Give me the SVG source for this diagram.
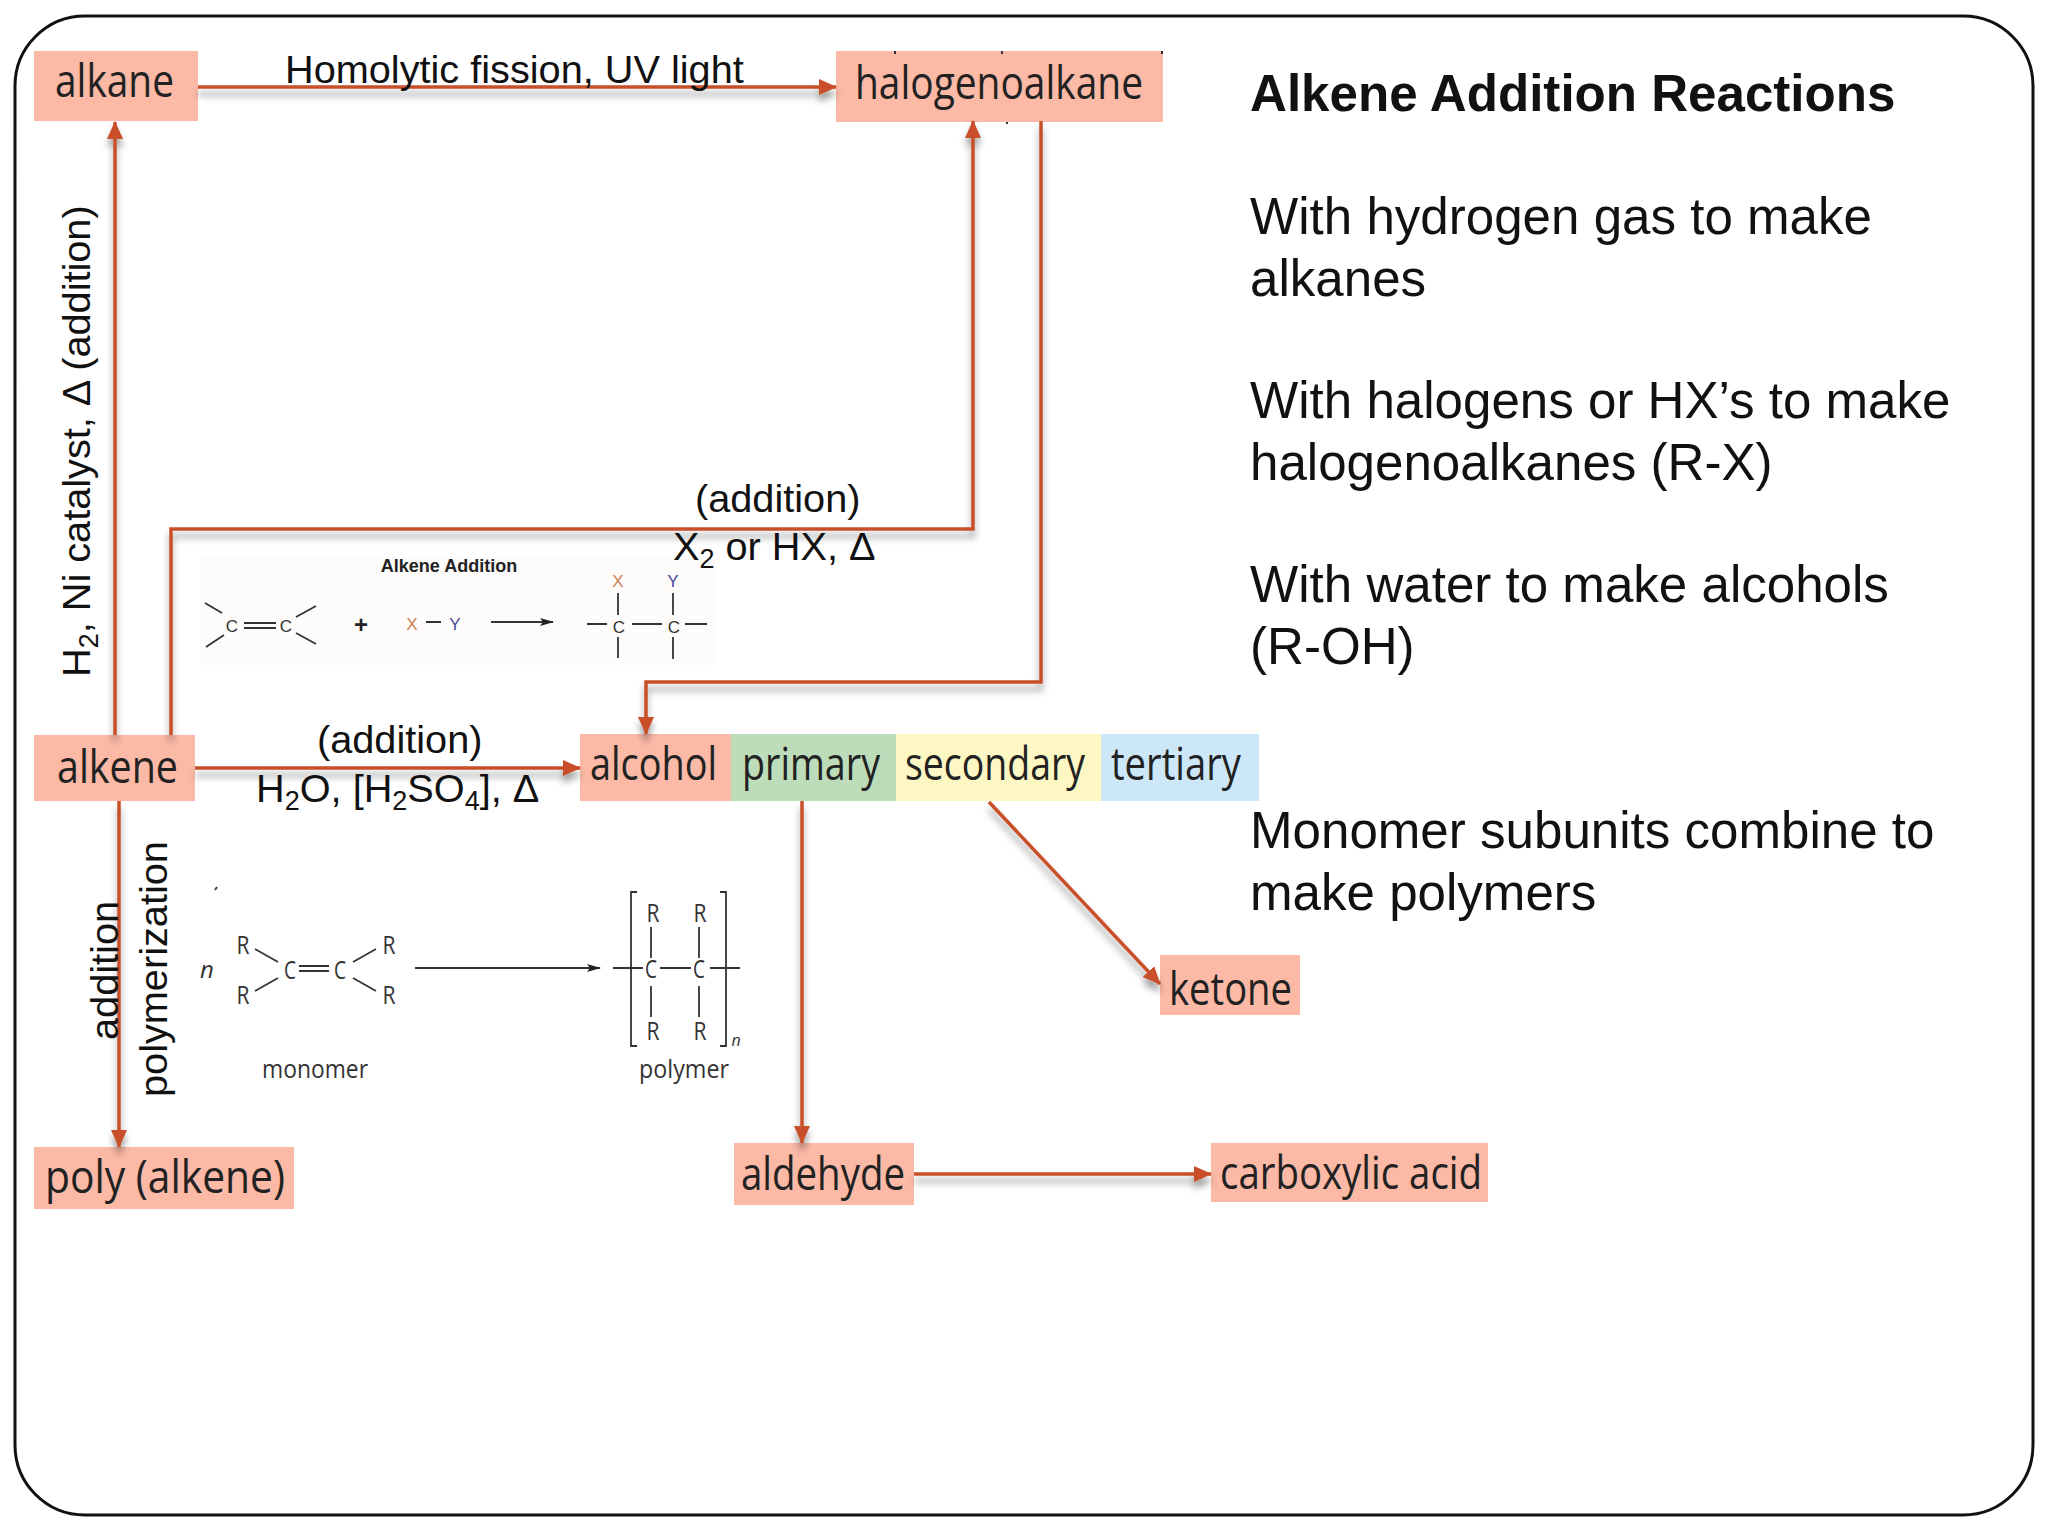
<svg xmlns="http://www.w3.org/2000/svg" width="2048" height="1536" viewBox="0 0 2048 1536">
<style>
.n{font-family:"Open Sans","Noto Sans",sans-serif;font-size:45px;fill:#222}
.l{font-family:"Liberation Sans",Arial,sans-serif;font-size:39.7px;fill:#111}
.r{font-family:"Liberation Sans",Arial,sans-serif;font-size:51.1px;fill:#111}
.c{fill:none;stroke:#c8502a;stroke-width:3.5}
.b{stroke:#333;stroke-width:1.8;fill:none}
.t1{font-family:"Liberation Sans",Arial,sans-serif;font-size:17px;fill:#333;text-anchor:middle}
.t2{font-family:"Open Sans","Noto Sans",sans-serif;font-size:25px;fill:#333;text-anchor:middle}
.sal{fill:#fbb9a6}
</style>
<defs>
<marker id="a" markerUnits="userSpaceOnUse" markerWidth="18" markerHeight="18" refX="17" refY="9" orient="auto"><path d="M0 1L18 9L0 17Z" fill="#c8502a"/></marker>
<marker id="k" markerUnits="userSpaceOnUse" markerWidth="14" markerHeight="10" refX="13" refY="5" orient="auto"><path d="M0 1L14 5L0 9L3 5Z" fill="#222"/></marker>
<filter id="s" x="-5%" y="-5%" width="110%" height="110%"><feDropShadow dx="0" dy="7" stdDeviation="3.5" flood-color="#000" flood-opacity="0.38"/></filter>
</defs>
<rect width="2048" height="1536" fill="#fff"/>
<rect id="frame" x="15" y="16" width="2018" height="1499" rx="70" ry="70" fill="#fff" stroke="#111" stroke-width="3"/>

<g id="inset-addition">
<rect x="200" y="558" width="516" height="107" fill="#fdfcfb"/>
<text x="449" y="572" font-family="Liberation Sans,Arial,sans-serif" font-size="18" font-weight="bold" fill="#222" text-anchor="middle">Alkene Addition</text>
<path class="b" d="M205 603L222 613M206 647L224 635M244 623H276M244 628H276M296 617L316 606M296 633L316 644M426 622H441M618 593V615M673 593V615M587 624H607M632 624H662M685 624H707M618 637V658M673 637V659"/>
<path d="M491 622H553" class="b" marker-end="url(#k)"/>
<text class="t1" x="232" y="632">C</text><text class="t1" x="286" y="632">C</text>
<text x="361" y="633" font-family="Liberation Sans,Arial,sans-serif" font-size="24" font-weight="bold" fill="#222" text-anchor="middle">+</text>
<text class="t1" x="412" y="630" style="fill:#d08050">X</text><text class="t1" x="455" y="630" style="fill:#4a4a9c">Y</text>
<text class="t1" x="618" y="587" style="fill:#d08050">X</text><text class="t1" x="673" y="587" style="fill:#4a4a9c">Y</text>
<text class="t1" x="619" y="633">C</text><text class="t1" x="674" y="633">C</text>
</g>

<g id="inset-polymer">
<path d="M215 890l2 -3" stroke="#444" stroke-width="2"/>
<path class="b" d="M255 949L278 962M255 991L278 978M353 962L376 949M353 978L376 991M299 966H329M299 971H329M613 968H643M660 968H691M710 968H740M651 927V958M699 927V958M651 986V1017M699 986V1017M637 892H631V1046H637M720 892H726V1046H720"/>
<path d="M415 968H600" class="b" marker-end="url(#k)"/>
<text class="t2" x="207" y="978" style="font-style:italic;font-size:24px">n</text>
<text class="t2" x="243" y="954" textLength="13" lengthAdjust="spacingAndGlyphs">R</text><text class="t2" x="243" y="1004" textLength="13" lengthAdjust="spacingAndGlyphs">R</text><text class="t2" x="389" y="954" textLength="13" lengthAdjust="spacingAndGlyphs">R</text><text class="t2" x="389" y="1004" textLength="13" lengthAdjust="spacingAndGlyphs">R</text>
<text class="t2" x="290" y="979" textLength="12" lengthAdjust="spacingAndGlyphs">C</text><text class="t2" x="340" y="979" textLength="12" lengthAdjust="spacingAndGlyphs">C</text>
<text class="t2" x="653" y="922" textLength="13" lengthAdjust="spacingAndGlyphs">R</text><text class="t2" x="700" y="922" textLength="13" lengthAdjust="spacingAndGlyphs">R</text><text class="t2" x="653" y="1040" textLength="13" lengthAdjust="spacingAndGlyphs">R</text><text class="t2" x="700" y="1040" textLength="13" lengthAdjust="spacingAndGlyphs">R</text>
<text class="t2" x="651" y="978" textLength="12" lengthAdjust="spacingAndGlyphs">C</text><text class="t2" x="699" y="978" textLength="12" lengthAdjust="spacingAndGlyphs">C</text>
<text class="t2" x="736" y="1046" style="font-style:italic;font-size:16px">n</text>
<text class="t2" x="315" y="1078" textLength="106" lengthAdjust="spacingAndGlyphs" style="font-size:26px">monomer</text>
<text class="t2" x="684" y="1078" textLength="90" lengthAdjust="spacingAndGlyphs" style="font-size:26px">polymer</text>
</g>

<g id="alkane"><rect class="sal" x="34" y="51" width="164" height="70"/><text class="n" x="55" y="97" textLength="119" lengthAdjust="spacingAndGlyphs">alkane</text></g>
<g id="halogenoalkane"><rect class="sal" x="836" y="51" width="327" height="71"/><path d="M895 51v3M1002 51v3M1162 51v3M1007 122v2" stroke="#333" stroke-width="2"/><text class="n" x="855" y="99" textLength="288" lengthAdjust="spacingAndGlyphs">halogenoalkane</text></g>
<g id="alkene"><rect class="sal" x="34" y="735" width="161" height="66"/><text class="n" x="57" y="783" textLength="121" lengthAdjust="spacingAndGlyphs">alkene</text></g>
<g id="alcohol"><rect class="sal" x="580" y="734" width="151" height="67"/><text class="n" x="590" y="780" textLength="127" lengthAdjust="spacingAndGlyphs">alcohol</text></g>
<g id="primary"><rect fill="#bddcb9" x="731" y="734" width="165" height="67"/><text class="n" x="742" y="780" textLength="138" lengthAdjust="spacingAndGlyphs">primary</text></g>
<g id="secondary"><rect fill="#fdf7c3" x="896" y="734" width="205" height="67"/><text class="n" x="905" y="780" textLength="180" lengthAdjust="spacingAndGlyphs">secondary</text></g>
<g id="tertiary"><rect fill="#cce8f8" x="1101" y="734" width="158" height="67"/><text class="n" x="1111" y="780" textLength="130" lengthAdjust="spacingAndGlyphs">tertiary</text></g>
<g id="ketone"><rect class="sal" x="1160" y="955" width="140" height="60"/><text class="n" x="1169" y="1005" textLength="123" lengthAdjust="spacingAndGlyphs">ketone</text></g>
<g id="aldehyde"><rect class="sal" x="734" y="1143" width="180" height="62"/><text class="n" x="741" y="1190" textLength="164" lengthAdjust="spacingAndGlyphs">aldehyde</text></g>
<g id="carboxylic-acid"><rect class="sal" x="1211" y="1143" width="277" height="59"/><text class="n" x="1220" y="1189" textLength="262" lengthAdjust="spacingAndGlyphs">carboxylic acid</text></g>
<g id="poly-alkene"><rect class="sal" x="34" y="1147" width="260" height="62"/><text class="n" x="45" y="1193" textLength="240" lengthAdjust="spacingAndGlyphs">poly (alkene)</text></g>

<g id="connectors" filter="url(#s)">
<path class="c" d="M198 87H836" marker-end="url(#a)"/>
<path class="c" d="M115 735V122" marker-end="url(#a)"/>
<path class="c" d="M171 735V529H973V121" marker-end="url(#a)"/>
<path class="c" d="M1041 121V682H646V734" marker-end="url(#a)"/>
<path class="c" d="M195 768H580" marker-end="url(#a)"/>
<path class="c" d="M119 801V1147" marker-end="url(#a)"/>
<path class="c" d="M802 801V1143" marker-end="url(#a)"/>
<path class="c" d="M989 802L1160 984" marker-end="url(#a)"/>
<path class="c" d="M914 1174H1211" marker-end="url(#a)"/>
</g>

<g id="labels">
<text class="l" x="285" y="83">Homolytic fission, UV light</text>
<text class="l" x="695" y="512">(addition)</text>
<text class="l" x="673" y="560">X<tspan dy="8" font-size="27">2</tspan><tspan dy="-8"> or HX, Δ</tspan></text>
<text class="l" x="317" y="753">(addition)</text>
<text class="l" x="256" y="802">H<tspan dy="8" font-size="27">2</tspan><tspan dy="-8">O, [H</tspan><tspan dy="8" font-size="27">2</tspan><tspan dy="-8">SO</tspan><tspan dy="8" font-size="27">4</tspan><tspan dy="-8">], Δ</tspan></text>
<text class="l" transform="translate(90 677) rotate(-90)">H<tspan dy="8" font-size="27">2</tspan><tspan dy="-8">, Ni catalyst, Δ (addition)</tspan></text>
<text class="l" transform="translate(118 1040) rotate(-90)">addition</text>
<text class="l" transform="translate(167 1097) rotate(-90)">polymerization</text>
</g>

<g id="notes">
<text class="r" x="1250" y="111" font-weight="bold">Alkene Addition Reactions</text>
<text class="r" x="1250" y="234">With hydrogen gas to make</text>
<text class="r" x="1250" y="296">alkanes</text>
<text class="r" x="1250" y="418">With halogens or HX’s to make</text>
<text class="r" x="1250" y="480">halogenoalkanes (R-X)</text>
<text class="r" x="1250" y="602">With water to make alcohols</text>
<text class="r" x="1250" y="664">(R-OH)</text>
<text class="r" x="1250" y="848">Monomer subunits combine to</text>
<text class="r" x="1250" y="910">make polymers</text>
</g>
</svg>
